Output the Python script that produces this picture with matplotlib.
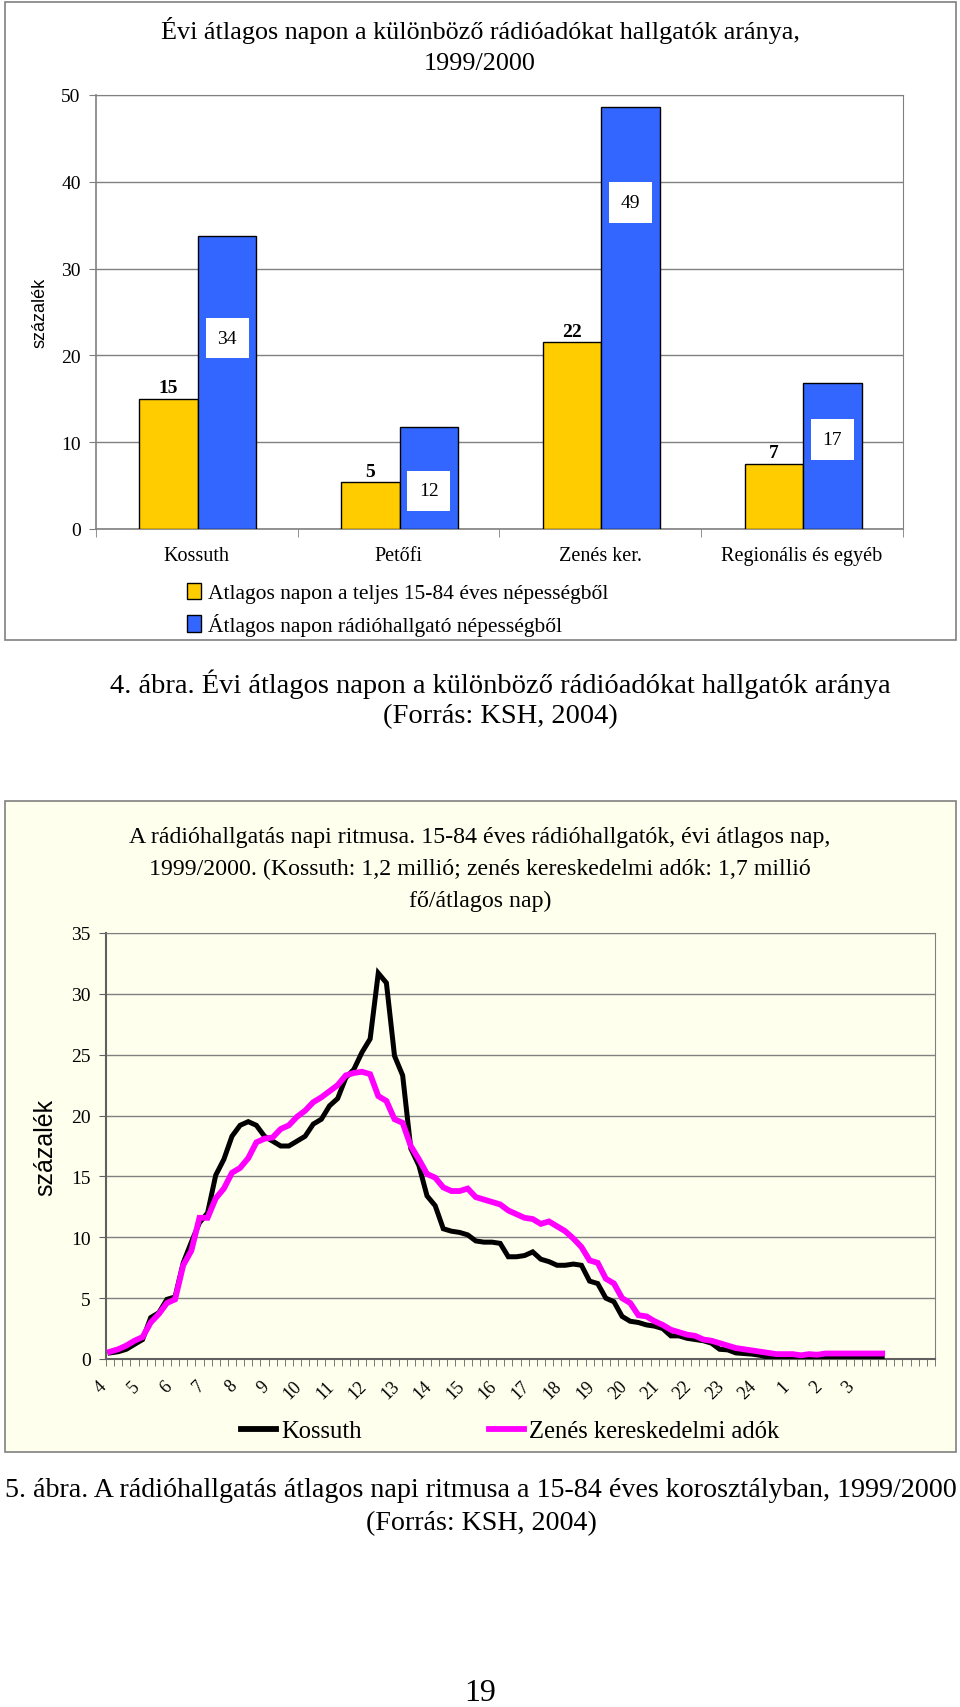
import numpy as np
import matplotlib
matplotlib.use("Agg")
import matplotlib.pyplot as plt
from matplotlib.patches import Rectangle
from matplotlib.lines import Line2D
from matplotlib.ticker import FixedLocator, NullFormatter
from matplotlib.transforms import ScaledTranslation

# ---------------- DATA ----------------
bar_categories = ["Kossuth", "Petőfi", "Zenés ker.", "Regionális és egyéb"]
bar_total_pop = [15.0, 5.4, 21.5, 7.5]          # Átlagos napon a teljes 15-84 éves népességből
bar_listeners = [33.8, 11.8, 48.6, 16.8]        # Átlagos napon rádióhallgató népességből
bar_total_labels = ["15", "5", "22", "7"]
bar_listener_labels = ["34", "12", "49", "17"]
bar_series_names = ["Atlagos napon a teljes 15-84 éves népességből",
                    "Átlagos napon rádióhallgató népességből"]

hour_labels = [str(h) for h in range(4, 25)] + ["1", "2", "3"]

kossuth = [0.5, 0.6, 0.8, 1.2, 1.6, 3.4, 3.8, 4.9, 5.1, 7.9,
           9.6, 11.2, 12.0, 15.1, 16.4, 18.3, 19.2, 19.5, 19.2, 18.3,
           17.9, 17.5, 17.5, 17.9, 18.3, 19.3, 19.7, 20.8, 21.4, 23.1,
           23.8, 25.2, 26.3, 31.7, 30.9, 24.9, 23.3, 17.3, 15.9, 13.4,
           12.6, 10.7, 10.5, 10.4, 10.2, 9.7, 9.6, 9.6, 9.5, 8.4,
           8.4, 8.5, 8.8, 8.2, 8.0, 7.7, 7.7, 7.8, 7.7, 6.4,
           6.2, 5.0, 4.7, 3.5, 3.1, 3.0, 2.8, 2.7, 2.5, 1.9,
           1.9, 1.7, 1.6, 1.5, 1.3, 0.8, 0.75, 0.5, 0.45, 0.4,
           0.3, 0.15, 0.1, 0.1, 0.1, 0.15, 0.2, 0.2, 0.2, 0.2,
           0.2, 0.2, 0.2, 0.2, 0.2, 0.2]
zenes = [0.6, 0.8, 1.1, 1.5, 1.8, 3.0, 3.7, 4.6, 4.9, 7.7,
         8.9, 11.6, 11.6, 13.2, 14.0, 15.3, 15.7, 16.5, 17.8, 18.1,
         18.2, 18.9, 19.2, 19.9, 20.4, 21.1, 21.5, 22.0, 22.5, 23.3,
         23.5, 23.6, 23.4, 21.6, 21.2, 19.7, 19.4, 17.5, 16.4, 15.2,
         14.9, 14.1, 13.8, 13.8, 14.0, 13.3, 13.1, 12.9, 12.7, 12.2,
         11.9, 11.6, 11.5, 11.1, 11.3, 10.9, 10.5, 9.9, 9.2, 8.1,
         7.9, 6.6, 6.2, 5.0, 4.6, 3.6, 3.5, 3.1, 2.8, 2.4,
         2.2, 2.0, 1.9, 1.6, 1.5, 1.3, 1.1, 0.9, 0.8, 0.7,
         0.6, 0.5, 0.4, 0.4, 0.4, 0.3, 0.4, 0.35, 0.45, 0.45,
         0.45, 0.45, 0.45, 0.45, 0.45, 0.45]
line_series_names = ["Kossuth", "Zenés kereskedelmi adók"]

# ---------------- LAYOUT ----------------
W, H = 960, 1708
DPI = 100
SERIF = ["Liberation Serif", "DejaVu Serif"]
SANS = ["Liberation Sans", "DejaVu Sans"]
plt.rcParams["font.family"] = SERIF

fig = plt.figure(figsize=(W / DPI, H / DPI), dpi=DPI)
fig.patch.set_facecolor("white")


def rect(x0, y0, x1, y1):
    return [x0 / W, 1 - y1 / H, (x1 - x0) / W, (y1 - y0) / H]


def fx(x):
    return x / W


def fy(y):
    return 1 - y / H


# ============ Chart 1: bars ============
fig.patches.append(Rectangle((fx(5), fy(641)), (956 - 5) / W, (641 - 3) / H,
                             transform=fig.transFigure, facecolor="white",
                             edgecolor="#808080", lw=1.2, zorder=-10))
fig.text(fx(480), fy(30), "Évi átlagos napon a különböző rádióadókat hallgatók aránya,",
         ha="center", va="center", fontsize=18.8)
fig.text(fx(480), fy(64), "1999/2000", ha="center", va="center", fontsize=18.8)

ax1 = fig.add_axes(rect(96, 96, 903, 530))
ax1.set_facecolor("white")
xb = np.arange(len(bar_categories))
bw = 0.29
b1 = ax1.bar(xb - bw / 2 + 0.005, bar_total_pop, width=bw, color="#FFCC00",
             edgecolor="black", lw=1.0, zorder=3, label=bar_series_names[0])
b2 = ax1.bar(xb + bw / 2 + 0.005, bar_listeners, width=bw, color="#3366FF",
             edgecolor="black", lw=1.0, zorder=3, label=bar_series_names[1])
ax1.set_xlim(-0.5, len(bar_categories) - 0.5)
ax1.set_ylim(0, 50)
ax1.set_yticks(np.arange(0, 51, 10))
ax1.yaxis.grid(True, color="#808080", lw=1.0, zorder=0)
ax1.set_axisbelow(True)
ax1.xaxis.set_major_locator(FixedLocator(xb))
ax1.set_xticklabels(bar_categories, fontsize=14.5)
ax1.xaxis.set_minor_locator(FixedLocator(np.arange(-0.5, len(bar_categories), 1.0)))
ax1.tick_params(axis="x", which="major", length=0, pad=12)
ax1.tick_params(axis="x", which="minor", length=6, color="#808080", direction="out")
ax1.tick_params(axis="y", labelsize=14, length=5, color="#808080", pad=6)
for s in ["top", "right"]:
    ax1.spines[s].set_color("#808080")
for s in ["left", "bottom"]:
    ax1.spines[s].set_color("#808080")
    ax1.spines[s].set_linewidth(1.2)
ax1.set_ylabel("százalék", fontsize=13, family=SANS, labelpad=9)

for rct, lab in zip(b1, bar_total_labels):
    ax1.text(rct.get_x() + rct.get_width() / 2, rct.get_height() + 0.3, lab,
             ha="center", va="bottom", fontsize=14, fontweight="bold", zorder=5)
listener_label_y = [22.0, 4.4, 37.6, 10.3]
for rct, lab, ly in zip(b2, bar_listener_labels, listener_label_y):
    ax1.text(rct.get_x() + rct.get_width() / 2, ly, lab, ha="center", va="center",
             fontsize=14, zorder=5,
             bbox=dict(boxstyle="square,pad=0.6", facecolor="white", edgecolor="none"))

fig.legend(handles=[b1, b2], labels=bar_series_names,
           loc="upper left", bbox_to_anchor=(fx(178), fy(575)),
           frameon=False, fontsize=15.5, handlelength=0.65, handleheight=0.8,
           handletextpad=0.35, labelspacing=0.45, borderaxespad=0)

# caption 1
fig.text(fx(500), fy(684),
         "4. ábra. Évi átlagos napon a különböző rádióadókat hallgatók aránya",
         ha="center", va="center", fontsize=20.5)
fig.text(fx(500), fy(717), "(Forrás: KSH, 2004)", ha="center", va="center", fontsize=20.5)

# ============ Chart 2: lines ============
CREAM = "#FFFFEE"
fig.patches.append(Rectangle((fx(5), fy(1453)), (956 - 5) / W, (1453 - 802) / H,
                             transform=fig.transFigure, facecolor=CREAM,
                             edgecolor="#808080", lw=1.2, zorder=-10))
title2 = ["A rádióhallgatás napi ritmusa. 15-84 éves rádióhallgatók, évi átlagos nap,",
          "1999/2000. (Kossuth: 1,2 millió; zenés kereskedelmi adók: 1,7 millió",
          "fő/átlagos nap)"]
for k, t in enumerate(title2):
    fig.text(fx(480), fy(838 + 31.5 * k), t, ha="center", va="center", fontsize=17.2)

ax2 = fig.add_axes(rect(106, 934, 935, 1360))
ax2.set_facecolor(CREAM)
n_cat = 102
xl = np.arange(len(kossuth))
ax2.plot(xl, kossuth, color="black", lw=3.6, zorder=3, solid_joinstyle="miter",
         label=line_series_names[0])
ax2.plot(xl, zenes, color="#FF00FF", lw=4.2, zorder=4, solid_joinstyle="miter",
         label=line_series_names[1])
ax2.set_xlim(-0.5, n_cat - 0.5)
ax2.set_ylim(0, 35)
ax2.set_yticks(np.arange(0, 36, 5))
ax2.yaxis.grid(True, color="#808080", lw=1.0, zorder=0)
ax2.set_axisbelow(True)
label_pos = np.arange(0, 4 * len(hour_labels), 4)
ax2.xaxis.set_major_locator(FixedLocator(label_pos))
ax2.xaxis.set_major_formatter(NullFormatter())
lab_trans = ax2.get_xaxis_transform() + ScaledTranslation(-12 / DPI, -18 / DPI,
                                                          fig.dpi_scale_trans)
for p, t in zip(label_pos, hour_labels):
    ax2.text(p, 0, t, transform=lab_trans, rotation=45, fontsize=13,
             ha="right", va="top", rotation_mode="anchor", clip_on=False)
ax2.xaxis.set_minor_locator(FixedLocator(np.arange(-0.5, n_cat, 1.0)))
ax2.tick_params(axis="x", which="major", length=0)
ax2.tick_params(axis="x", which="minor", length=5, color="#606060", direction="out")
ax2.tick_params(axis="y", labelsize=14, length=5, color="#606060", pad=6)
for s in ["top", "right"]:
    ax2.spines[s].set_color("#808080")
for s in ["left", "bottom"]:
    ax2.spines[s].set_color("#606060")
    ax2.spines[s].set_linewidth(1.5)
ax2.set_ylabel("százalék", fontsize=18, family=SANS, labelpad=10)

h1 = Line2D([], [], color="black", lw=4.2)
h2 = Line2D([], [], color="#FF00FF", lw=4.2)
fig.legend(handles=[h1, h2], labels=line_series_names, loc="center left",
           bbox_to_anchor=(fx(231), fy(1432)), ncol=2, frameon=False,
           fontsize=17.7, handlelength=1.45, handletextpad=0.2,
           columnspacing=5.15, borderaxespad=0)

# caption 2
fig.text(fx(481), fy(1491),
         "5. ábra. A rádióhallgatás átlagos napi ritmusa a 15-84 éves korosztályban, 1999/2000",
         ha="center", va="center", fontsize=20.2)
fig.text(fx(481), fy(1524), "(Forrás: KSH, 2004)", ha="center", va="center", fontsize=20.2)

fig.text(fx(480), fy(1694), "19", ha="center", va="center", fontsize=23)

fig.savefig("out.png", dpi=DPI, facecolor="white")
